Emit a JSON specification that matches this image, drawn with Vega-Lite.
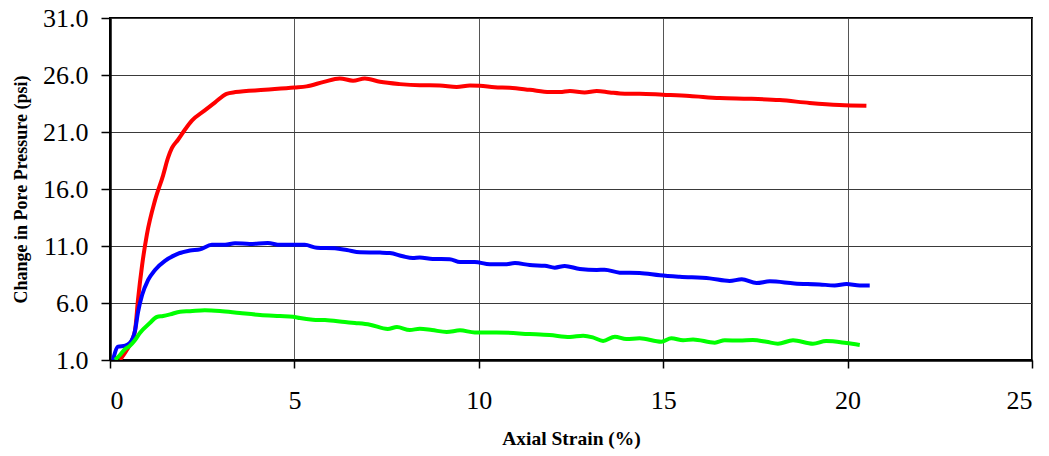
{
  "$schema": "https://vega.github.io/schema/vega-lite/v6.json",
  "width": 922,
  "height": 342,
  "autosize": {"type": "none"},
  "padding": {"left": 110, "top": 18, "right": 17, "bottom": 96},
  "background": "white",
  "config": {
    "font": "Liberation Serif",
    "view": {"stroke": "black", "strokeWidth": 2},
    "axis": {
      "labelFont": "Liberation Serif",
      "titleFont": "Liberation Serif",
      "labelColor": "black",
      "titleColor": "black",
      "domainColor": "black",
      "domainWidth": 2.5,
      "tickColor": "black",
      "tickWidth": 1.5,
      "gridColor": "#3a3a3a",
      "gridWidth": 1,
      "gridOpacity": 1
    }
  },
  "data": {
    "values": [
      {"series": "A", "s": 0.27, "v": 1.0},
      {"series": "A", "s": 0.46, "v": 1.9},
      {"series": "A", "s": 0.6, "v": 2.75},
      {"series": "A", "s": 0.68, "v": 3.6},
      {"series": "A", "s": 0.76, "v": 6.3},
      {"series": "A", "s": 0.87, "v": 9.3},
      {"series": "A", "s": 1.0, "v": 12.0},
      {"series": "A", "s": 1.22, "v": 15.0},
      {"series": "A", "s": 1.44, "v": 17.2},
      {"series": "A", "s": 1.57, "v": 18.7},
      {"series": "A", "s": 1.68, "v": 19.6},
      {"series": "A", "s": 1.84, "v": 20.3},
      {"series": "A", "s": 2.03, "v": 21.2},
      {"series": "A", "s": 2.22, "v": 22.0},
      {"series": "A", "s": 2.57, "v": 22.9},
      {"series": "A", "s": 2.85, "v": 23.6},
      {"series": "A", "s": 3.16, "v": 24.35},
      {"series": "A", "s": 3.4, "v": 24.5},
      {"series": "A", "s": 4.2, "v": 24.7},
      {"series": "A", "s": 5.0, "v": 24.9},
      {"series": "A", "s": 5.33, "v": 25.0},
      {"series": "A", "s": 5.8, "v": 25.4},
      {"series": "A", "s": 6.23, "v": 25.7},
      {"series": "A", "s": 6.59, "v": 25.5},
      {"series": "A", "s": 6.91, "v": 25.7},
      {"series": "A", "s": 7.32, "v": 25.4},
      {"series": "A", "s": 7.86, "v": 25.2},
      {"series": "A", "s": 8.4, "v": 25.1},
      {"series": "A", "s": 8.94, "v": 25.08},
      {"series": "A", "s": 9.4, "v": 24.95},
      {"series": "A", "s": 9.76, "v": 25.08},
      {"series": "A", "s": 10.03, "v": 25.06},
      {"series": "A", "s": 10.43, "v": 24.92},
      {"series": "A", "s": 10.84, "v": 24.88},
      {"series": "A", "s": 11.38, "v": 24.7},
      {"series": "A", "s": 11.92, "v": 24.5},
      {"series": "A", "s": 12.2, "v": 24.5},
      {"series": "A", "s": 12.47, "v": 24.6},
      {"series": "A", "s": 12.87, "v": 24.47},
      {"series": "A", "s": 13.2, "v": 24.6},
      {"series": "A", "s": 13.55, "v": 24.47},
      {"series": "A", "s": 13.96, "v": 24.36},
      {"series": "A", "s": 14.36, "v": 24.36},
      {"series": "A", "s": 14.99, "v": 24.27},
      {"series": "A", "s": 15.72, "v": 24.16},
      {"series": "A", "s": 16.53, "v": 23.98},
      {"series": "A", "s": 17.34, "v": 23.92},
      {"series": "A", "s": 18.16, "v": 23.8},
      {"series": "A", "s": 18.97, "v": 23.55},
      {"series": "A", "s": 19.78, "v": 23.37},
      {"series": "A", "s": 20.51, "v": 23.3},

      {"series": "B", "s": 0.08, "v": 1.0},
      {"series": "B", "s": 0.22, "v": 2.17},
      {"series": "B", "s": 0.41, "v": 2.25},
      {"series": "B", "s": 0.54, "v": 2.5},
      {"series": "B", "s": 0.68, "v": 3.6},
      {"series": "B", "s": 0.76, "v": 5.2},
      {"series": "B", "s": 0.87, "v": 6.7},
      {"series": "B", "s": 1.03, "v": 8.0},
      {"series": "B", "s": 1.22, "v": 8.9},
      {"series": "B", "s": 1.49, "v": 9.7},
      {"series": "B", "s": 1.76, "v": 10.2},
      {"series": "B", "s": 2.17, "v": 10.6},
      {"series": "B", "s": 2.44, "v": 10.7},
      {"series": "B", "s": 2.76, "v": 11.1},
      {"series": "B", "s": 3.12, "v": 11.1},
      {"series": "B", "s": 3.39, "v": 11.24},
      {"series": "B", "s": 3.79, "v": 11.18},
      {"series": "B", "s": 4.28, "v": 11.26},
      {"series": "B", "s": 4.61, "v": 11.1},
      {"series": "B", "s": 4.96, "v": 11.1},
      {"series": "B", "s": 5.28, "v": 11.1},
      {"series": "B", "s": 5.61, "v": 10.85},
      {"series": "B", "s": 6.1, "v": 10.8},
      {"series": "B", "s": 6.42, "v": 10.65},
      {"series": "B", "s": 6.78, "v": 10.45},
      {"series": "B", "s": 7.32, "v": 10.42},
      {"series": "B", "s": 7.59, "v": 10.38},
      {"series": "B", "s": 7.94, "v": 10.1},
      {"series": "B", "s": 8.21, "v": 9.95},
      {"series": "B", "s": 8.4, "v": 10.0},
      {"series": "B", "s": 8.75, "v": 9.86},
      {"series": "B", "s": 9.21, "v": 9.84},
      {"series": "B", "s": 9.49, "v": 9.6},
      {"series": "B", "s": 9.89, "v": 9.6},
      {"series": "B", "s": 10.3, "v": 9.4},
      {"series": "B", "s": 10.7, "v": 9.4},
      {"series": "B", "s": 10.98, "v": 9.5},
      {"series": "B", "s": 11.38, "v": 9.33},
      {"series": "B", "s": 11.79, "v": 9.27},
      {"series": "B", "s": 12.06, "v": 9.1},
      {"series": "B", "s": 12.33, "v": 9.25},
      {"series": "B", "s": 12.74, "v": 8.98},
      {"series": "B", "s": 13.2, "v": 8.9},
      {"series": "B", "s": 13.41, "v": 8.92},
      {"series": "B", "s": 13.82, "v": 8.66},
      {"series": "B", "s": 14.36, "v": 8.63},
      {"series": "B", "s": 14.91, "v": 8.43},
      {"series": "B", "s": 15.45, "v": 8.3},
      {"series": "B", "s": 16.26, "v": 8.16},
      {"series": "B", "s": 16.8, "v": 7.93},
      {"series": "B", "s": 17.13, "v": 8.08},
      {"series": "B", "s": 17.53, "v": 7.75},
      {"series": "B", "s": 17.89, "v": 7.9},
      {"series": "B", "s": 18.56, "v": 7.72},
      {"series": "B", "s": 19.24, "v": 7.63},
      {"series": "B", "s": 19.65, "v": 7.54},
      {"series": "B", "s": 19.97, "v": 7.67},
      {"series": "B", "s": 20.33, "v": 7.54},
      {"series": "B", "s": 20.6, "v": 7.54},

      {"series": "C", "s": 0.14, "v": 1.0},
      {"series": "C", "s": 0.27, "v": 1.44},
      {"series": "C", "s": 0.41, "v": 1.96},
      {"series": "C", "s": 0.54, "v": 2.25},
      {"series": "C", "s": 0.68, "v": 2.75},
      {"series": "C", "s": 0.81, "v": 3.37},
      {"series": "C", "s": 1.08, "v": 4.25},
      {"series": "C", "s": 1.27, "v": 4.77},
      {"series": "C", "s": 1.44, "v": 4.86},
      {"series": "C", "s": 1.63, "v": 5.0},
      {"series": "C", "s": 1.9, "v": 5.24},
      {"series": "C", "s": 2.17, "v": 5.28},
      {"series": "C", "s": 2.57, "v": 5.36},
      {"series": "C", "s": 2.98, "v": 5.3},
      {"series": "C", "s": 3.52, "v": 5.12},
      {"series": "C", "s": 4.07, "v": 4.95},
      {"series": "C", "s": 4.61, "v": 4.86},
      {"series": "C", "s": 4.96, "v": 4.8},
      {"series": "C", "s": 5.15, "v": 4.68},
      {"series": "C", "s": 5.5, "v": 4.54},
      {"series": "C", "s": 5.83, "v": 4.5},
      {"series": "C", "s": 6.37, "v": 4.33},
      {"series": "C", "s": 6.64, "v": 4.25},
      {"series": "C", "s": 7.05, "v": 4.1},
      {"series": "C", "s": 7.53, "v": 3.72},
      {"series": "C", "s": 7.78, "v": 3.89},
      {"series": "C", "s": 8.13, "v": 3.63},
      {"series": "C", "s": 8.4, "v": 3.75},
      {"series": "C", "s": 8.73, "v": 3.63},
      {"series": "C", "s": 9.13, "v": 3.46},
      {"series": "C", "s": 9.49, "v": 3.6},
      {"series": "C", "s": 9.89, "v": 3.42},
      {"series": "C", "s": 10.48, "v": 3.42},
      {"series": "C", "s": 11.38, "v": 3.28},
      {"series": "C", "s": 11.92, "v": 3.19},
      {"series": "C", "s": 12.47, "v": 3.02},
      {"series": "C", "s": 12.83, "v": 3.13},
      {"series": "C", "s": 13.09, "v": 2.99},
      {"series": "C", "s": 13.37, "v": 2.67},
      {"series": "C", "s": 13.69, "v": 3.05},
      {"series": "C", "s": 14.0, "v": 2.84},
      {"series": "C", "s": 14.36, "v": 2.9},
      {"series": "C", "s": 14.95, "v": 2.6},
      {"series": "C", "s": 15.22, "v": 2.9},
      {"series": "C", "s": 15.54, "v": 2.73},
      {"series": "C", "s": 15.81, "v": 2.8},
      {"series": "C", "s": 16.4, "v": 2.52},
      {"series": "C", "s": 16.67, "v": 2.73},
      {"series": "C", "s": 17.07, "v": 2.7},
      {"series": "C", "s": 17.43, "v": 2.75},
      {"series": "C", "s": 17.8, "v": 2.6},
      {"series": "C", "s": 18.11, "v": 2.43},
      {"series": "C", "s": 18.52, "v": 2.73},
      {"series": "C", "s": 19.06, "v": 2.43},
      {"series": "C", "s": 19.42, "v": 2.67},
      {"series": "C", "s": 19.97, "v": 2.49},
      {"series": "C", "s": 20.33, "v": 2.32}
    ]
  },
  "mark": {"type": "line", "strokeWidth": 4, "interpolate": "monotone", "clip": true},
  "encoding": {
    "x": {
      "field": "s",
      "type": "quantitative",
      "scale": {"domain": [0, 25], "nice": false, "zero": false},
      "axis": {
        "title": "Axial Strain (%)",
        "titleFontSize": 19.5,
        "titleFontWeight": "bold",
        "titlePadding": 16,
        "values": [0, 5, 10, 15, 20, 25],
        "format": "d",
        "labelFontSize": 26,
        "labelPadding": 19,
        "tickSize": 8,
        "grid": true,
        "gridColor": "#555555"
      }
    },
    "y": {
      "field": "v",
      "type": "quantitative",
      "scale": {"domain": [1, 31], "nice": false, "zero": false},
      "axis": {
        "title": "Change in Pore Pressure (psi)",
        "titleFontSize": 18,
        "titleFontWeight": "bold",
        "titlePadding": 12,
        "values": [1, 6, 11, 16, 21, 26, 31],
        "format": ".1f",
        "labelFontSize": 26,
        "labelPadding": 13,
        "tickSize": 9,
        "grid": true
      }
    },
    "color": {
      "field": "series",
      "type": "nominal",
      "scale": {"domain": ["A", "B", "C"], "range": ["#ff0000", "#0000ff", "#00ff00"]},
      "legend": null
    }
  }
}
